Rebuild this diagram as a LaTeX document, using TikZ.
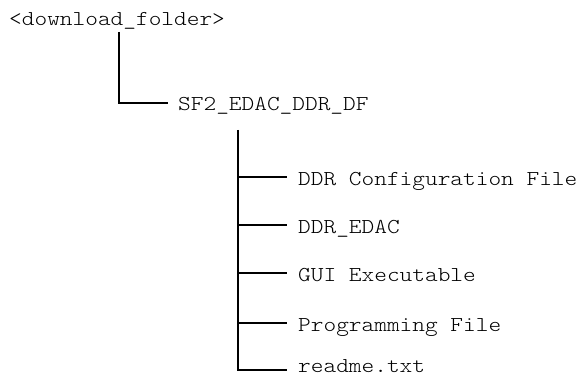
\documentclass[tikz,border=0pt]{standalone}
\usepackage{fontspec}
\newfontfamily\treefont[FakeStretch=1.14]{Latin Modern Mono Light}
\begin{document}
\begin{tikzpicture}[x=1pt,y=-1pt,
  treeline/.style={line width=1.7pt,black},
  entry/.style={anchor=base west,inner ysep=0pt,
    font=\fontsize{21.2}{21.2}\selectfont\treefont},
  childentry/.style={entry,inner xsep=11pt},
  folderentry/.style={entry,inner xsep=10pt}]
\useasboundingbox (0,0) rectangle (582,377);

% top-level folder
\node[folderentry] (root) at (-1,26) {<download\_folder>};
\coordinate (stemA) at (119,32);

% project folder
\node[folderentry] (sf) at (168,111) {SF2\_EDAC\_DDR\_DF};
\coordinate (stemB) at (238,130);

% contents of the project folder
\node[childentry] (c1) at (287,186) {DDR Configuration File};
\node[childentry] (c2) at (287,234) {DDR\_EDAC};
\node[childentry] (c3) at (287,282) {GUI Executable};
\node[childentry] (c4) at (287,332) {Programming File};
\node[childentry] (c5) at (287,373) {readme.txt};

% attachment points of the connectors (left of each label)
\coordinate (sfin) at ([yshift=8pt]sf.base west);
\coordinate (c1in) at ([yshift=9pt]c1.base west);
\coordinate (c2in) at ([yshift=9pt]c2.base west);
\coordinate (c3in) at ([yshift=9pt]c3.base west);
\coordinate (c4in) at ([yshift=9pt]c4.base west);
\coordinate (c5in) at ([yshift=3pt]c5.base west);

% connectors
\draw[treeline] (stemA) |- (sfin);
\draw[treeline] (stemB) |- (c5in);
\foreach \c in {c1in,c2in,c3in,c4in}
  \draw[treeline] (stemB |- \c) -- (\c);
\end{tikzpicture}
\end{document}
